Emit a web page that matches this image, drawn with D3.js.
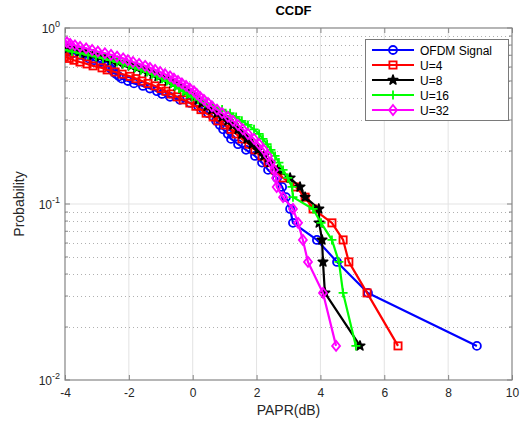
<!DOCTYPE html>
<html><head><meta charset="utf-8">
<script src="https://cdn.jsdelivr.net/npm/d3@7/dist/d3.min.js"></script>
<style>body{margin:0;background:#fff;} svg{display:block;font-family:"Liberation Sans",Arial,sans-serif;}</style>
</head><body><div id="chart"></div>
<script>
const totalSamples = 64;
const seriesNames = ["OFDM Signal","U=4","U=8","U=16","U=32"];
const seriesColors = ["#0000ff","#ff0000","#000000","#00ff00","#ff00ff"];
const seriesMarkers = ["circle","square","star","plus","diamond"];
const xTickValues = [-4,-2,0,2,4,6,8,10];
const yTickExponents = [0,-1,-2];

// exceedance counts (out of 64) and PAPR (dB)
const ofdmCounts = [48,47,46,45,44,43,42,41,40,39,38,37,36,35,34,33,32,31,30,29,28,27,26,25,24,23,22,21,20,19,18,17,16,15,14,13,12,11,10,9,8,7,6,5,4,3,2,1];
const ofdmPapr = [-4.05,-3.94,-3.75,-3.53,-3.37,-3.25,-3.09,-2.90,-2.78,-2.68,-2.59,-2.53,-2.47,-2.40,-2.31,-2.22,-2.03,-1.84,-1.56,-1.34,-1.12,-0.96,-0.71,-0.40,-0.08,0.17,0.33,0.48,0.64,0.73,0.85,0.95,1.10,1.20,1.42,1.67,1.95,2.17,2.36,2.64,2.80,2.92,3.05,3.14,3.89,4.52,5.49,8.90];

const u4Counts = [44,43,42,41,40,39,38,37,36,35,34,33,32,31,30,29,28,27,26,25,24,23,22,21,20,19,18,17,16,15,14,13,12,11,10,9,8,7,6,5,4,3,2,1];
const u4Papr = [-4.02,-3.87,-3.72,-3.53,-3.31,-3.12,-2.84,-2.68,-2.43,-2.21,-1.96,-1.78,-1.59,-1.40,-1.18,-0.99,-0.84,-0.68,-0.49,-0.30,-0.09,0.10,0.26,0.42,0.64,0.79,1.01,1.20,1.36,1.54,1.76,1.95,2.17,2.36,2.58,2.83,3.23,3.52,3.77,4.36,4.71,4.89,5.46,6.43];

const u8Counts = [50,49,48,47,46,45,44,43,42,41,40,39,38,37,36,35,34,33,32,31,30,29,28,27,26,25,24,23,22,21,20,19,18,17,16,15,14,13,12,11,10,9,8,7,6,5,4,3,2,1];
const u8Papr = [-4.06,-3.91,-3.72,-3.53,-3.34,-3.12,-2.90,-2.72,-2.53,-2.34,-2.12,-1.93,-1.75,-1.56,-1.40,-1.24,-1.09,-0.93,-0.77,-0.62,-0.49,-0.34,-0.21,-0.09,0.04,0.17,0.29,0.45,0.60,0.76,0.92,1.10,1.26,1.42,1.54,1.70,1.86,2.04,2.23,2.42,2.67,3.05,3.36,3.52,3.95,3.96,4.05,4.08,4.14,5.24];

const u16Counts = [48,47,46,45,44,43,42,41,40,39,38,37,36,35,34,33,32,31,30,29,28,27,26,25,24,23,22,21,20,19,18,17,16,15,14,13,12,11,10,9,8,7,6,5,4,3,2,1];
const u16Papr = [-4.03,-3.78,-3.53,-3.28,-3.03,-2.81,-2.59,-2.37,-2.18,-2.00,-1.81,-1.62,-1.43,-1.28,-1.12,-0.96,-0.81,-0.68,-0.56,-0.43,-0.30,-0.18,-0.02,0.17,0.38,0.64,0.92,1.17,1.36,1.54,1.73,1.92,2.08,2.20,2.33,2.45,2.58,2.70,2.83,2.98,3.11,3.14,3.77,4.02,4.36,4.58,4.71,5.11];

const u32Counts = [54,53,52,51,50,49,48,47,46,45,44,43,42,41,40,39,38,37,36,35,34,33,32,31,30,29,28,27,26,25,24,23,22,21,20,19,18,17,16,15,14,13,12,11,10,9,8,7,6,5,4,3,2,1];
const u32Papr = [-4.09,-3.94,-3.84,-3.69,-3.53,-3.34,-3.15,-2.97,-2.75,-2.56,-2.37,-2.18,-2.03,-1.87,-1.68,-1.49,-1.34,-1.18,-1.02,-0.87,-0.71,-0.59,-0.46,-0.34,-0.21,-0.09,0.04,0.13,0.23,0.35,0.48,0.60,0.76,0.92,1.10,1.26,1.42,1.57,1.73,1.92,2.08,2.23,2.36,2.45,2.55,2.61,2.63,2.83,3.14,3.30,3.45,3.61,4.08,4.49];

const allCounts = [ofdmCounts,u4Counts,u8Counts,u16Counts,u32Counts];
const allPapr = [ofdmPapr,u4Papr,u8Papr,u16Papr,u32Papr];

const W = 528, H = 425;
const L = 65, R = 512, T = 28, B = 380;
const svg = d3.select("#chart").append("svg").attr("width",W).attr("height",H);
const x = d3.scaleLinear().domain([-4,10]).range([L,R]);
const y = d3.scaleLog().domain([0.01,1]).range([B,T]);
const axisColor = "#858585";
const textColor = "#262626";

// grid
const g = svg.append("g");
xTickValues.forEach(v=>{
  if (v===-4||v===10) return;
  g.append("line").attr("x1",x(v)).attr("x2",x(v)).attr("y1",T).attr("y2",B)
   .attr("stroke","#e3e3e3").attr("stroke-width",1);
});
const minorVals = [];
[0.01,0.1].forEach(d=>{ for(let m=2;m<=9;m++) minorVals.push(d*m); });
minorVals.forEach(v=>{
  g.append("line").attr("x1",L).attr("x2",R).attr("y1",Math.round(y(v))+0.5).attr("y2",Math.round(y(v))+0.5)
   .attr("stroke","#b0b0b0").attr("stroke-width",1).attr("stroke-dasharray","1,3");
});
g.append("line").attr("x1",L).attr("x2",R).attr("y1",y(0.1)).attr("y2",y(0.1))
 .attr("stroke","#e3e3e3").attr("stroke-width",1);

// axes box
svg.append("rect").attr("x",L).attr("y",T).attr("width",R-L).attr("height",B-T)
  .attr("fill","none").attr("stroke",axisColor).attr("stroke-width",1.2);

// ticks via d3 axes (inward)
const xAxisB = d3.axisBottom(x).tickValues(xTickValues).tickSize(-5).tickPadding(8).tickFormat(d3.format("d"));
const gxb = svg.append("g").attr("transform",`translate(0,${B})`).call(xAxisB);
gxb.select(".domain").remove();
gxb.selectAll("line").attr("stroke",axisColor);
gxb.selectAll("text").attr("fill",textColor).attr("font-size",12).text(d=>d<0?"-"+Math.abs(d):d);
const xAxisT = d3.axisTop(x).tickValues(xTickValues).tickSize(-5).tickFormat("");
const gxt = svg.append("g").attr("transform",`translate(0,${T})`).call(xAxisT);
gxt.select(".domain").remove(); gxt.selectAll("line").attr("stroke",axisColor);

const majorY = yTickExponents.map(e=>Math.pow(10,e));
[[L,1],[R,-1]].forEach(([px,dir])=>{
  majorY.forEach(v=>svg.append("line").attr("x1",px).attr("x2",px+dir*5).attr("y1",y(v)).attr("y2",y(v)).attr("stroke",axisColor));
  minorVals.forEach(v=>svg.append("line").attr("x1",px).attr("x2",px+dir*3).attr("y1",y(v)).attr("y2",y(v)).attr("stroke",axisColor));
});
yTickExponents.forEach(e=>{
  const t = svg.append("text").attr("x",L-5).attr("y",y(Math.pow(10,e))+5).attr("text-anchor","end")
    .attr("fill",textColor).attr("font-size",12);
  t.append("tspan").text("10");
  t.append("tspan").attr("dy",-6).attr("font-size",9).text(e===0?"0":"-"+Math.abs(e));
});

// labels
svg.append("text").attr("x",(L+R)/2+5).attr("y",15).attr("text-anchor","middle")
  .attr("font-weight","bold").attr("font-size",13).attr("fill","#000").text("CCDF");
svg.append("text").attr("x",(L+R)/2).attr("y",415).attr("text-anchor","middle")
  .attr("font-size",14).attr("fill",textColor).text("PAPR(dB)");
svg.append("text").attr("transform",`translate(24,${(T+B)/2}) rotate(-90)`).attr("text-anchor","middle")
  .attr("font-size",14).attr("fill",textColor).text("Probability");

// marker drawer
function drawMarker(sel, type, color){
  if (type==="circle") sel.append("circle").attr("r",4).attr("fill","none").attr("stroke",color).attr("stroke-width",1.8);
  else if (type==="square") sel.append("rect").attr("x",-3.6).attr("y",-3.6).attr("width",7.2).attr("height",7.2).attr("fill","none").attr("stroke",color).attr("stroke-width",1.8);
  else if (type==="star") sel.append("path").attr("d",d3.symbol(d3.symbolStar,28)()).attr("fill",color).attr("stroke",color).attr("stroke-width",1.6).attr("stroke-linejoin","round");
  else if (type==="plus") sel.append("path").attr("d","M-4.5,0H4.5M0,-4.5V4.5").attr("fill","none").attr("stroke",color).attr("stroke-width",1.8);
  else if (type==="diamond") sel.append("path").attr("d","M0,-5L4,0L0,5L-4,0Z").attr("fill","none").attr("stroke",color).attr("stroke-width",1.8);
}

svg.append("clipPath").attr("id","clip").append("rect").attr("x",L).attr("y",T).attr("width",R-L).attr("height",B-T);
const plot = svg.append("g").attr("clip-path","url(#clip)");
const line = d3.line().x(d=>x(d[0])).y(d=>y(d[1]));
allPapr.forEach((xs,i)=>{
  const pts = xs.map((v,j)=>[v, allCounts[i][j]/totalSamples]);
  const sg = plot.append("g");
  sg.append("path").datum(pts).attr("d",line).attr("fill","none").attr("stroke",seriesColors[i]).attr("stroke-width",2.2).attr("stroke-linejoin","round");
  pts.forEach(p=>{
    const m = sg.append("g").attr("transform",`translate(${x(p[0])},${y(p[1])})`);
    drawMarker(m, seriesMarkers[i], seriesColors[i]);
  });
});

// legend
const lg = svg.append("g");
lg.append("rect").attr("x",365.5).attr("y",39.5).attr("width",143).attr("height",81)
  .attr("fill","#fff").attr("stroke","#7a7a7a").attr("stroke-width",1);
seriesNames.forEach((n,i)=>{
  const yy = 50 + i*15;
  lg.append("line").attr("x1",372).attr("x2",414).attr("y1",yy).attr("y2",yy).attr("stroke",seriesColors[i]).attr("stroke-width",2.2);
  const m = lg.append("g").attr("transform",`translate(393,${yy})`);
  drawMarker(m, seriesMarkers[i], seriesColors[i]);
  lg.append("text").attr("x",420).attr("y",yy+4.5).attr("font-size",12).attr("fill","#000").text(n);
});
</script></body></html>
